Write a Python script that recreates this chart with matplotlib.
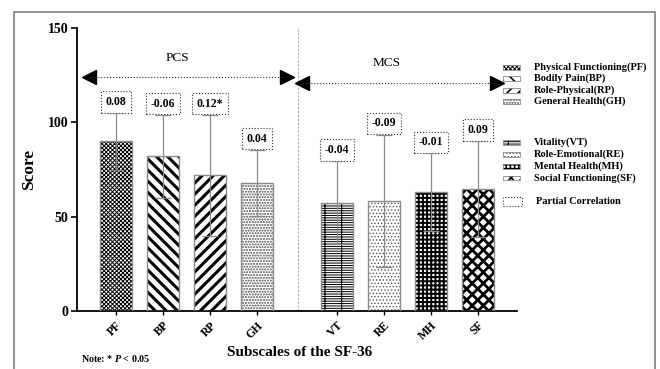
import matplotlib
matplotlib.use('Agg')
import matplotlib.pyplot as plt
from matplotlib.patches import Rectangle
import numpy as np

# ------------------------------------------------------------
# Font
# ------------------------------------------------------------
plt.rcParams['font.family'] = ['Liberation Serif', 'DejaVu Serif']
plt.rcParams['mathtext.fontset'] = 'custom'
plt.rcParams['mathtext.it'] = 'Liberation Serif:italic:bold'
plt.rcParams['mathtext.rm'] = 'Liberation Serif:bold'

# ------------------------------------------------------------
# Data
# ------------------------------------------------------------
subscales = ['PF', 'BP', 'RP', 'GH', 'VT', 'RE', 'MH', 'SF']
full_names = ['Physical Functioning(PF)', 'Bodily Pain(BP)', 'Role-Physical(RP)',
              'General Health(GH)', 'Vitality(VT)', 'Role-Emotional(RE)',
              'Mental Health(MH)', 'Social Functioning(SF)']
means = [90, 82, 72, 68, 57.5, 58.5, 63, 64.5]
sds = [15, 22, 32, 17.5, 22, 35, 20.5, 25.5]
partial_corr = ['0.08', '-0.06', '0.12*', '0.04', '-0.04', '-0.09', '-0.01', '0.09']

positions = [0, 1, 2, 3, 4.7, 5.7, 6.7, 7.7]

# hatch style per subscale: (hatch, colour, hatch linewidth)
hatches = [
    ('xxxxxxxx', 'black', 0.7),
    ('\\\\\\', 'black', 2.2),
    ('///', 'black', 2.2),
    ('oooooo', '#888888', 0.5),
    ('-------|', 'black', 0.7),
    ('.....', '#555555', 0.6),
    ('++++', 'black', 1.4),
    ('xxx', 'black', 2.0),
]

gray = '#8a8a8a'

# ------------------------------------------------------------
# Figure
# ------------------------------------------------------------
fig = plt.figure(figsize=(6.6, 3.69), dpi=100)
fig.patch.set_facecolor('white')
ax = fig.add_axes([77 / 660, 1 - 311 / 369, (517 - 77) / 660, (311 - 28) / 369])

def make_bar(x, h, hatch, color, lw, **kw):
    with plt.rc_context({'hatch.linewidth': lw}):
        b = ax.bar(x, h, width=0.68, color='white', edgecolor=color,
                   hatch=hatch, linewidth=0, **kw)
    for p in b:
        if hasattr(p, 'set_hatch_linewidth'):
            p.set_hatch_linewidth(lw)
    return b

for i in range(len(subscales)):
    h, c, lw = hatches[i]
    make_bar(positions[i], means[i], h, c, lw, zorder=2)
    ax.bar(positions[i], means[i], width=0.68, color='none',
           edgecolor=gray, linewidth=1.0, zorder=3)

# error bars
ax.errorbar(positions, means, yerr=sds, fmt='none', ecolor=gray,
            elinewidth=0.9, capsize=6, capthick=0.9, zorder=4)

# partial correlation boxes
for i in range(len(subscales)):
    ax.annotate(partial_corr[i], xy=(positions[i], means[i] + sds[i]),
                xytext=(0, 8), textcoords='offset points',
                ha='center', va='center', fontsize=8.5, fontweight='bold',
                bbox=dict(boxstyle='square,pad=0.4', fc='white',
                          ec='#333333', ls=':', lw=0.8), zorder=5)

# separator
ax.axvline(3.87, color='#b0b0b0', ls=(0, (2, 1.5)), lw=0.8, zorder=1)

# PCS / MCS arrows
for x0, x1, y, tx, ty, name in [(-0.57, 3.64, 123.8, 1.3, 133.9, 'PCS'),
                                (3.96, 8.1, 120.6, 5.75, 131.7, 'MCS')]:
    ax.plot([x0, x1], [y, y], color='#333333', ls=':', lw=0.8, zorder=3)
    ax.plot([x0], [y], marker='<', color='black', markersize=10,
            linestyle='none', clip_on=False)
    ax.plot([x1], [y], marker='>', color='black', markersize=10,
            linestyle='none', clip_on=False)
    ax.text(tx, ty, name, ha='center', va='center', fontsize=9.5)

# axes
ax.set_xlim(-0.83, 8.53)
ax.set_ylim(0, 150)
ax.set_yticks([0, 50, 100, 150])
ax.set_xticks(positions)
ax.set_xticklabels(subscales, rotation=45, ha='right', rotation_mode='anchor',
                   fontsize=8.5, fontweight='bold')
for t in ax.get_yticklabels():
    t.set_fontweight('bold')
    t.set_fontsize(10)
ax.tick_params(axis='y', length=4, width=1.2, pad=2)
ax.tick_params(axis='x', length=3, width=1.0, pad=3)
ax.spines['top'].set_visible(False)
ax.spines['right'].set_visible(False)
ax.spines['left'].set_linewidth(1.3)
ax.spines['bottom'].set_linewidth(1.3)
ax.set_ylabel('Score', fontsize=12.5, fontweight='bold', labelpad=8)
fig.text(300 / 660, 1 - 352 / 369, 'Subscales of the SF-36', ha='center',
         va='center', fontsize=11, fontweight='bold')
fig.text(81 / 660, 1 - 359 / 369, r'Note: * $\mathit{P}$ < 0.05', ha='left',
         va='center', fontsize=7.2, fontweight='bold')

# ------------------------------------------------------------
# Legend (drawn in figure coords)
# ------------------------------------------------------------
legend_y = [67, 78, 90, 101, 142, 154, 166, 178]
W, H = 660, 369
for i in range(len(subscales)):
    h, c, lw = hatches[i]
    y = legend_y[i]
    with plt.rc_context({'hatch.linewidth': min(lw, 1.2)}):
        r = Rectangle((503 / W, 1 - (y + 2.5) / H), 17 / W, 5 / H,
                      transform=fig.transFigure, facecolor='white',
                      edgecolor=c, hatch=h, linewidth=0)
    if hasattr(r, 'set_hatch_linewidth'):
        r.set_hatch_linewidth(min(lw, 1.2))
    fig.add_artist(r)
    fig.add_artist(Rectangle((503 / W, 1 - (y + 2.5) / H), 17 / W, 5 / H,
                             transform=fig.transFigure, fill=False,
                             edgecolor=gray, linewidth=0.6))
    fig.text(534 / W, 1 - y / H, full_names[i], ha='left', va='center',
             fontsize=7.5, fontweight='bold')
fig.add_artist(Rectangle((503 / W, 1 - 206 / H), 19 / W, 9 / H,
                         transform=fig.transFigure, facecolor='white',
                         edgecolor='#333333', ls=':', linewidth=0.8))
fig.text(536 / W, 1 - 201.5 / H, 'Partial Correlation', ha='left',
         va='center', fontsize=7.5, fontweight='bold')

# outer frame
fig.add_artist(Rectangle((14 / W, -0.05), (655 - 14) / W, 1.05 - 12 / H,
                         transform=fig.transFigure, fill=False,
                         edgecolor='#808080', linewidth=1.2))

fig.savefig('out.png', dpi=100)
